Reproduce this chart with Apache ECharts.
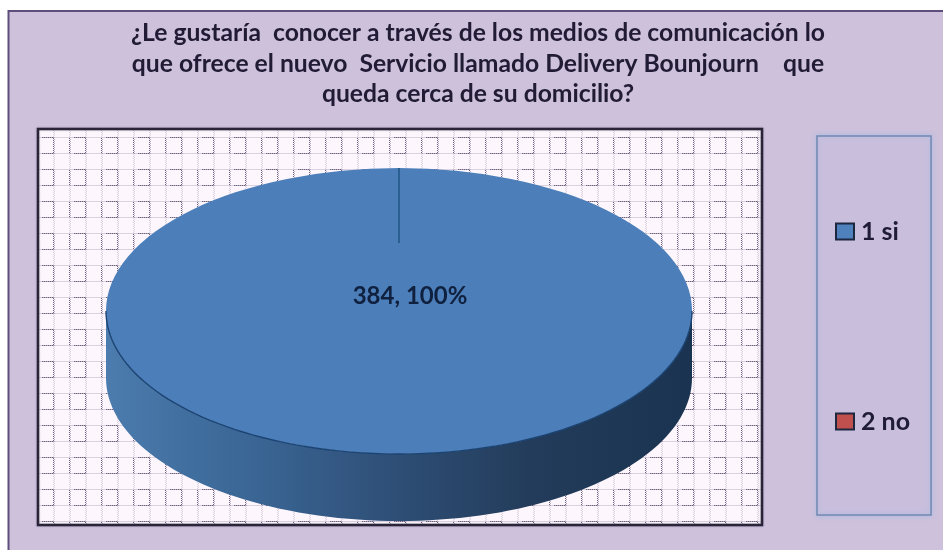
<!DOCTYPE html>
<html>
<head>
<meta charset="utf-8">
<style>
  html, body { margin: 0; padding: 0; background: #fff; }
  #chart { width: 943px; height: 550px; }
</style>
<script src="https://cdn.jsdelivr.net/npm/echarts@6/dist/echarts.min.js"></script>
</head>
<body>
<div id="chart"></div>
<script>
// Survey answers
const categories = ['1 si', '2 no'];
const answers = [384, 0];
const sliceColors = ['#4f81bd', '#c0504d'];
const titleLines = [
  '¿Le gustaría  conocer a través de los medios de comunicación lo',
  'que ofrece el nuevo  Servicio llamado Delivery Bounjourn    que',
  'queda cerca de su domicilio?'
];

// Tilted disc geometry
const disc = { cx: 399, cy: 311, rx: 293, ry: 143, depth: 67 };
const total = answers.reduce((a, b) => a + b, 0);
const fractionBefore = i => answers.slice(0, i).reduce((a, b) => a + b, 0) / total;

// Repeating dotted lattice behind the disc
function latticeTile() {
  const size = 32;
  const c = document.createElement('canvas');
  c.width = c.height = size;
  const g = c.getContext('2d');
  g.fillStyle = '#fdf7fd';
  g.fillRect(0, 0, size, size);
  const dark = 'rgba(80,68,105,0.85)';
  const mid = 'rgba(110,95,130,0.5)';
  const light = 'rgba(150,135,165,0.32)';
  const rows = [9, 25];
  const cols = [5, 21];
  // vertical lines: stronger beside the small squares
  cols.forEach(x => {
    for (let y = 0; y < size; y += 2) {
      const inBox = y >= 9 && y < 25;
      g.fillStyle = inBox ? dark : light;
      g.fillRect(x, y, 1, 1);
      g.fillStyle = inBox ? mid : light;
      g.fillRect(x + 1, y + 1, 1, 1);
    }
  });
  // horizontal lines: dashes over part of the span, light dots elsewhere
  rows.forEach(y => {
    for (let x = 0; x < size; x += 2) {
      const strong = x >= 10 && x < 21;
      g.fillStyle = strong ? dark : light;
      g.fillRect(x, y, 1, 1);
      g.fillStyle = strong ? mid : light;
      g.fillRect(x + 1, y, 1, 1);
    }
  });
  return c;
}

function renderSlice(params, api) {
  const value = api.value(0);
  const i = params.seriesIndex;
  const start = -Math.PI / 2 + fractionBefore(i) * Math.PI * 2;
  const end = start + (value / total) * Math.PI * 2;
  const { cx, cy, rx, ry, depth } = disc;
  const children = [];

  if (value > 0) {
    // visible front wall: the near half of the rim, pushed down by the depth
    const wall = [];
    const rim = [];
    for (let d = 0; d <= 180; d += 2) {
      const a = d * Math.PI / 180;
      rim.push([cx + rx * Math.cos(a), cy + ry * Math.sin(a)]);
      wall.push([cx + rx * Math.cos(a), cy + depth + ry * Math.sin(a)]);
    }
    children.push({
      type: 'polygon',
      shape: { points: wall.concat(rim.slice().reverse()) },
      style: {
        fill: new echarts.graphic.LinearGradient(0, 0, 1, 0, [
          { offset: 0, color: '#4c7bae' },
          { offset: 0.14, color: '#406f9f' },
          { offset: 0.3, color: '#38618f' },
          { offset: 0.5, color: '#2e4e75' },
          { offset: 0.72, color: '#233c5b' },
          { offset: 1, color: '#1a3350' }
        ])
      }
    });
    // top face
    children.push({
      type: 'sector',
      x: cx,
      y: cy,
      scaleY: ry / rx,
      shape: { cx: 0, cy: 0, r: rx, r0: 0, startAngle: start, endAngle: end, clockwise: true },
      style: { fill: '#4c7eb9' }
    });
    // dark edge where the top face meets the wall
    children.push({
      type: 'polyline',
      shape: { points: rim },
      style: { fill: null, stroke: '#1c4473', lineWidth: 1.4 }
    });
    const pct = Math.round(value / total * 100);
    children.push({
      type: 'text',
      style: {
        x: cx + 11,
        y: cy - 15,
        text: value + ', ' + pct + '%',
        fill: '#10213f',
        font: 'bold 24px Lato',
        align: 'center',
        verticalAlign: 'middle'
      }
    });
  } else {
    // an empty slice only leaves its boundary, running in from the rim
    const ex = Math.cos(start), ey = Math.sin(start);
    children.push({
      type: 'line',
      shape: {
        x1: cx + rx * ex, y1: cy + ry * ey,
        x2: cx + rx * ex * 0.475, y2: cy + ry * ey * 0.475
      },
      style: { stroke: '#215888', lineWidth: 1.6 }
    });
  }
  return { type: 'group', children };
}

const chart = echarts.init(document.getElementById('chart'), null, { renderer: 'canvas' });
chart.setOption({
  animation: false,
  backgroundColor: '#ffffff',
  title: {
    text: titleLines.join('\n'),
    left: 473,
    top: 13,
    textAlign: 'center',
    textStyle: { fontFamily: 'Lato', fontWeight: 'bold', fontSize: 24.7, lineHeight: 30.5, color: '#211b35' }
  },
  legend: {
    orient: 'vertical',
    left: 817,
    top: 136,
    padding: [83, 21, 81, 18],
    itemGap: 165,
    itemWidth: 18,
    itemHeight: 16,
    icon: 'rect',
    selectedMode: false,
    data: categories,
    backgroundColor: '#c9bfdd',
    borderColor: '#7088b3',
    borderWidth: 1.5,
    shadowColor: 'rgba(165,185,225,0.9)',
    shadowBlur: 5,
    itemStyle: { borderColor: '#1d2740', borderWidth: 2 },
    textStyle: { fontFamily: 'Lato', fontWeight: 'bold', fontSize: 25, lineHeight: 16, color: '#201c38', padding: [0, 0, 0, 2] }
  },
  graphic: [
    {
      type: 'rect', z: -3,
      shape: { x: 8, y: 10, width: 935, height: 540 },
      style: { fill: '#cdc1dc' }
    },
    { type: 'line', z: -2, shape: { x1: 8, y1: 11, x2: 943, y2: 11 }, style: { stroke: '#5d4e7c', lineWidth: 2 } },
    { type: 'line', z: -2, shape: { x1: 8.5, y1: 10, x2: 8.5, y2: 550 }, style: { stroke: '#5d4e7c', lineWidth: 2 } },
    {
      type: 'rect', z: -1,
      shape: { x: 38, y: 129, width: 724, height: 396 },
      style: {
        fill: { image: latticeTile(), repeat: 'repeat' },
        stroke: '#2a2438',
        lineWidth: 2.5,
        shadowColor: 'rgba(60,50,80,0.35)',
        shadowBlur: 2
      }
    }
  ],
  series: categories.map((name, i) => ({
    type: 'custom',
    name,
    coordinateSystem: 'none',
    renderItem: renderSlice,
    itemStyle: { color: sliceColors[i] },
    silent: true,
    data: [[answers[i]]]
  }))
});
</script>
</body>
</html>
